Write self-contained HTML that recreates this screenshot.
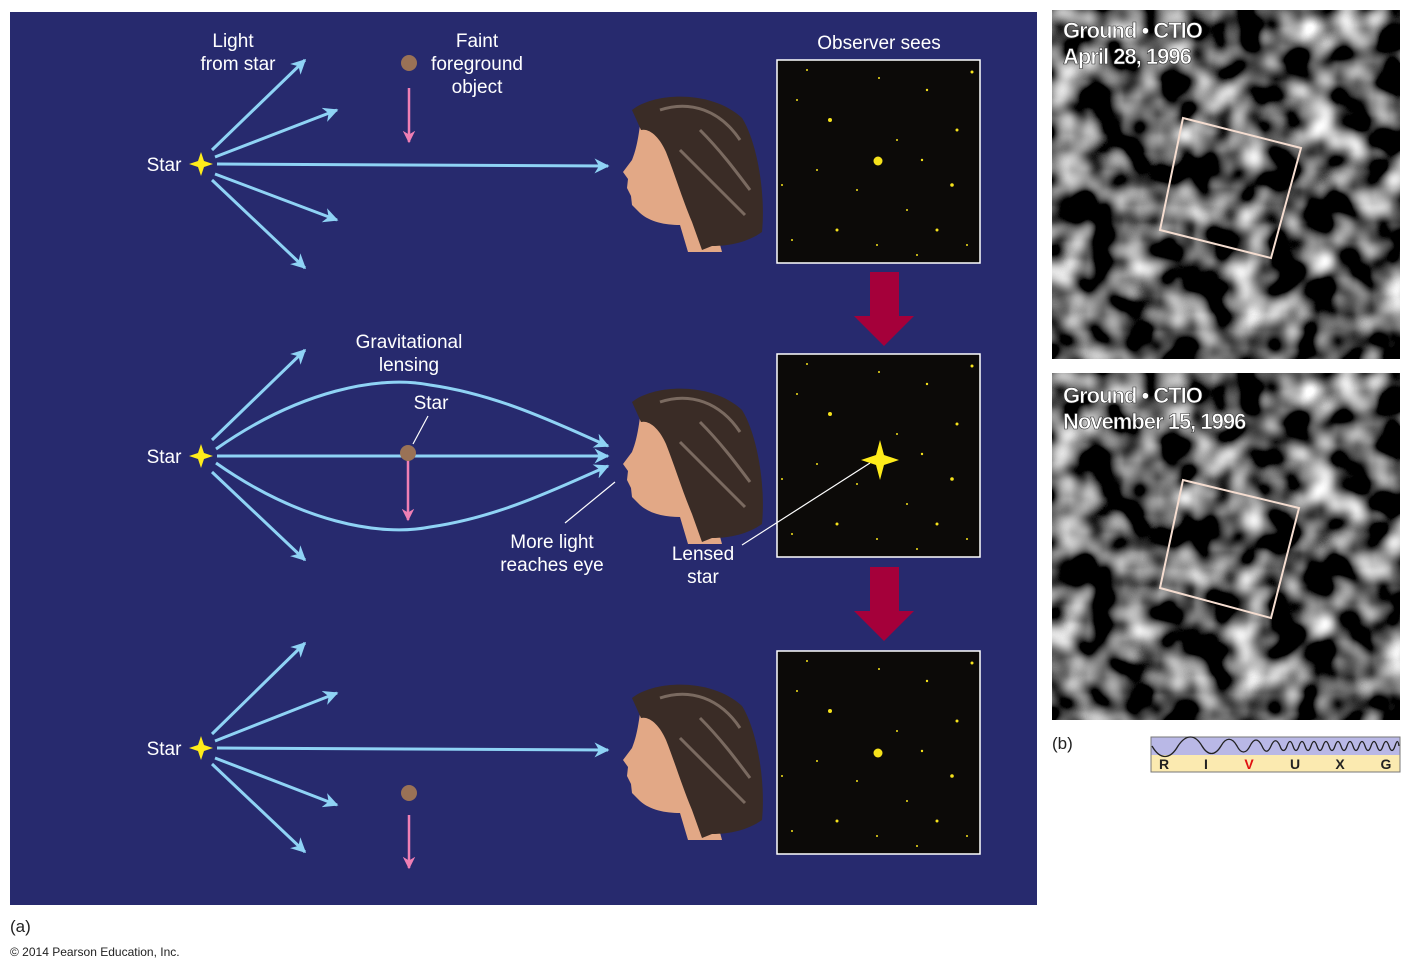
<!DOCTYPE html>
<html><head><meta charset="utf-8"><style>
body{margin:0;background:#fff;width:1411px;height:972px;overflow:hidden;font-family:"Liberation Sans",Arial,sans-serif}
</style></head><body>
<svg width="1411" height="972" viewBox="0 0 1411 972" xmlns="http://www.w3.org/2000/svg" font-family="Liberation Sans, Arial, sans-serif">
<defs>
<marker id="ab" viewBox="0 0 10 10" refX="9" refY="5" markerWidth="5" markerHeight="5" orient="auto-start-reverse"><path d="M0,0 L10,5 L0,10 L3,5 Z" fill="#8fd3f5"/></marker>
<marker id="ap" viewBox="0 0 10 10" refX="9" refY="5" markerWidth="5" markerHeight="5" orient="auto"><path d="M0,0 L10,5 L0,10 L3,5 Z" fill="#ef7fb4"/></marker>
<g id="star"><path d="M0,-12 L3,-3 L12,0 L3,3 L0,12 L-3,3 L-12,0 L-3,-3 Z" fill="#ffec1a"/></g>
<g id="face">
<path d="M640,125 C638,140 636,150 632,160 L623,172 L628,179 L627,188 L631,196 L632,205 L640,213 C650,222 665,225 680,225 L688,252 L722,252 L708,200 L690,130 Z" fill="#e2a886"/>
<path d="M632,110 C655,92 712,90 742,118 C756,140 766,190 762,232 C748,242 730,246 712,246 L702,250 L692,222 C682,198 674,172 666,152 C660,138 650,128 641,130 Z" fill="#3a2c26"/>
<path d="M660,110 C690,100 720,110 740,140 M680,150 C700,170 720,190 745,215 M700,130 C720,150 735,170 750,190" stroke="#7a6a60" stroke-width="3" fill="none"/>
</g>
<filter id="noise" x="0" y="0" width="100%" height="100%">
<feTurbulence type="fractalNoise" baseFrequency="0.028" numOctaves="2" seed="7"/>
<feColorMatrix type="matrix" values="2.4 0 0 0 -0.95  2.4 0 0 0 -0.95  2.4 0 0 0 -0.95  0 0 0 0 1"/>
<feComponentTransfer><feFuncR type="gamma" exponent="1.6"/><feFuncG type="gamma" exponent="1.6"/><feFuncB type="gamma" exponent="1.6"/></feComponentTransfer>
</filter>
<g id="sky">
<rect width="203" height="203" fill="#0c0a08" stroke="#fff" stroke-width="1.5"/>
<g fill="#f6e21b">
<circle cx="53" cy="60" r="2"/><circle cx="102" cy="18" r="1"/><circle cx="20" cy="40" r="1"/><circle cx="150" cy="30" r="1.2"/><circle cx="180" cy="70" r="1.5"/><circle cx="40" cy="110" r="1"/><circle cx="175" cy="125" r="1.8"/><circle cx="130" cy="150" r="1"/><circle cx="60" cy="170" r="1.5"/><circle cx="100" cy="185" r="1"/><circle cx="160" cy="170" r="1.5"/><circle cx="190" cy="185" r="1"/><circle cx="15" cy="180" r="1"/><circle cx="120" cy="80" r="1"/><circle cx="80" cy="130" r="1"/><circle cx="145" cy="100" r="1.2"/><circle cx="30" cy="10" r="1"/><circle cx="195" cy="12" r="1.5"/><circle cx="5" cy="125" r="1"/><circle cx="140" cy="195" r="1"/>
</g></g>
</defs>
<rect x="10" y="12" width="1027" height="893" fill="#272a6e"/>
<g fill="#fff" font-size="19" text-anchor="middle">
<text x="233" y="47">Light</text><text x="238" y="70">from star</text>
<text x="477" y="47">Faint</text><text x="477" y="70">foreground</text><text x="477" y="93">object</text>
<text x="879" y="49">Observer sees</text>
<text x="164" y="171">Star</text><text x="164" y="463">Star</text><text x="164" y="755">Star</text>
<text x="409" y="348">Gravitational</text><text x="409" y="371">lensing</text>
<text x="431" y="409">Star</text>
<text x="552" y="548">More light</text><text x="552" y="571">reaches eye</text>
<text x="703" y="560">Lensed</text><text x="703" y="583">star</text>
</g>
<g stroke="#8fd3f5" stroke-width="3" fill="none" marker-end="url(#ab)">
<line x1="212" y1="150" x2="305" y2="60"/><line x1="215" y1="157" x2="337" y2="110"/><line x1="217" y1="164" x2="608" y2="166"/><line x1="215" y1="174" x2="337" y2="220"/><line x1="212" y1="180" x2="305" y2="268"/>
<line x1="212" y1="440" x2="305" y2="350"/><line x1="212" y1="472" x2="305" y2="560"/><line x1="217" y1="456" x2="608" y2="456"/>
<path d="M216,449 C300,390 380,375 430,385 C500,395 560,425 608,446"/>
<path d="M216,463 C300,522 380,537 430,527 C500,517 560,487 608,466"/>
<line x1="212" y1="734" x2="305" y2="643"/><line x1="215" y1="741" x2="337" y2="693"/><line x1="217" y1="748" x2="608" y2="750"/><line x1="215" y1="758" x2="337" y2="805"/><line x1="212" y1="764" x2="305" y2="852"/>
</g>
<use href="#star" x="201" y="164"/><use href="#star" x="201" y="456"/><use href="#star" x="201" y="748"/>
<g stroke="#ef7fb4" stroke-width="2.5" marker-end="url(#ap)">
<line x1="409" y1="88" x2="409" y2="142"/><line x1="408" y1="460" x2="408" y2="520"/><line x1="409" y1="815" x2="409" y2="868"/>
</g>
<g fill="#9a7256"><circle cx="409" cy="63" r="8"/><circle cx="408" cy="453" r="8"/><circle cx="409" cy="793" r="8"/></g>
<use href="#face"/><use href="#face" y="292"/><use href="#face" y="588"/>
<use href="#sky" x="777" y="60"/><use href="#sky" x="777" y="354"/><use href="#sky" x="777" y="651"/>
<g stroke="#fff" stroke-width="1.2"><line x1="413" y1="444" x2="428" y2="416"/><line x1="565" y1="523" x2="615" y2="482"/><line x1="742" y1="545" x2="870" y2="463"/></g>
<circle cx="878" cy="161" r="4.5" fill="#f6e21b"/><circle cx="878" cy="753" r="4.5" fill="#f6e21b"/>
<path d="M880,440 L884,455 L899,460 L884,465 L880,480 L876,465 L861,460 L876,455 Z" fill="#ffec1a"/>
<g fill="#a5003a"><path d="M870,272 H899 V316 H914 L884,346 L854,316 H870 Z"/><path d="M870,567 H899 V611 H914 L884,641 L854,611 H870 Z"/></g>
<g>
<svg x="1052" y="10" width="348" height="349"><rect width="348" height="349" filter="url(#noise)"/></svg>
<svg x="1052" y="373" width="348" height="347"><rect width="348" height="347" filter="url(#noise)"/></svg>
</g>
<g fill="none" stroke="#f5ddd0" stroke-width="2"><path d="M1183,118 L1301,148 L1271,258 L1160,230 Z"/><path d="M1183,480 L1299,508 L1271,618 L1160,588 Z"/></g>
<g fill="#fff" font-size="22" font-weight="bold" stroke="#333" stroke-width="0.6" letter-spacing="-1">
<text x="1063" y="38">Ground • CTIO</text><text x="1063" y="64">April 28, 1996</text>
<text x="1063" y="403">Ground • CTIO</text><text x="1063" y="429">November 15, 1996</text>
</g>
<rect x="1151" y="737" width="249" height="18" fill="#b9b8e6"/><rect x="1151" y="755" width="249" height="17" fill="#fbeab0"/>
<rect x="1151" y="737" width="249" height="35" fill="none" stroke="#777" stroke-width="1"/>
<path d="M1152,746 C1160,760 1170,760 1178,746 C1186,734 1195,734 1202,746 C1208,756 1215,756 1221,746 C1226,737 1232,737 1237,746 C1241,754 1246,754 1250,746 C1254,738 1258,738 1262,746 C1265,753 1268,753 1271,746 C1274,739 1277,739 1280,746 C1282,752 1285,752 1287,746 C1289,740 1291,740 1293,746 C1295,752 1297,752 1299,746 C1301,740 1303,740 1305,746 C1307,752 1309,752 1311,746 C1313,740 1315,740 1317,746 C1319,752 1321,752 1323,746 C1325,740 1327,740 1329,746 C1331,752 1333,752 1335,746 C1337,740 1339,740 1341,746 C1343,752 1345,752 1347,746 C1349,740 1351,740 1353,746 C1355,752 1357,752 1359,746 C1361,740 1363,740 1365,746 C1367,752 1369,752 1371,746 C1373,740 1375,740 1377,746 C1379,752 1381,752 1383,746 C1385,740 1387,740 1389,746 C1391,752 1393,752 1395,746 C1397,740 1398,740 1399,746" stroke="#222" stroke-width="1.3" fill="none"/>
<g font-size="14" font-weight="bold" fill="#222" text-anchor="middle">
<text x="1164" y="769">R</text><text x="1206" y="769">I</text><text x="1249" y="769" fill="#e01010">V</text><text x="1295" y="769">U</text><text x="1340" y="769">X</text><text x="1386" y="769">G</text>
</g>
<text x="1052" y="749" font-size="17" fill="#222">(b)</text>
<text x="10" y="932" font-size="17" fill="#222">(a)</text>
<text x="10" y="956" font-size="12" fill="#222">© 2014 Pearson Education, Inc.</text>
</svg>
</body></html>
